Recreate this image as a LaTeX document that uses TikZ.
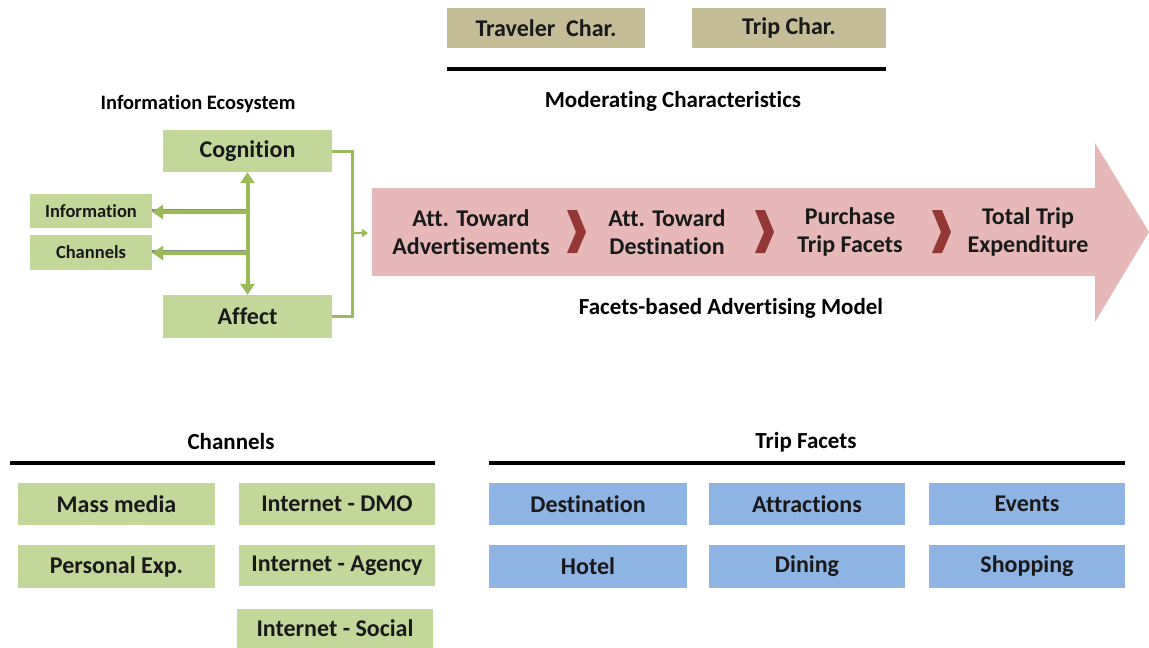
\documentclass[tikz,border=0pt]{standalone}
\usepackage{fontspec}
\setmainfont{Carlito}[Ligatures=NoCommon]
\usetikzlibrary{arrows.meta}
\definecolor{boxgreen}{RGB}{196,215,155}
\definecolor{arrowgreen}{RGB}{155,187,89}
\definecolor{boxtan}{RGB}{196,189,151}
\definecolor{boxblue}{RGB}{141,180,226}
\definecolor{bigpink}{RGB}{230,185,184}
\definecolor{chevred}{RGB}{149,55,53}
\tikzset{
  base/.style={inner sep=0pt, font=\bfseries\fontsize{24}{27}\selectfont, text=black!90},
  gbox/.style={base, fill=boxgreen},
  tbox/.style={base, fill=boxtan},
  bbox/.style={base, fill=boxblue},
  heading/.style={font=\bfseries\fontsize{23}{26}\selectfont, text=black},
  rule/.style={line width=4pt, black},
  garrow/.style={line width=4pt, arrowgreen, -{Triangle[width=14pt,length=11pt]}},
  gline/.style={line width=3pt, arrowgreen},
  inarrow/.style={align=center, font=\bfseries\fontsize{24}{28}\selectfont, text=black!90},
  chev/.style={fill=chevred, draw=none}
}
\begin{document}
\begin{tikzpicture}[x=1pt,y=-1pt]
\useasboundingbox (0,0) rectangle (1149,648);

% moderating characteristics
\node[tbox, minimum width=198, minimum height=40] (trav) at (546,28) {Traveler\ \ Char.};
\node[tbox, minimum width=194, minimum height=40] (tripc) at (789,28) {Trip Char.};
\coordinate (modL) at (447,69);
\coordinate (modR) at (886,69);
\draw[rule] (modL) -- (modR);
\node[heading] (modtitle) at (673,101) {Moderating Characteristics};

% information ecosystem
\node[heading, font=\bfseries\fontsize{20.5}{23}\selectfont] (ecotitle) at (198,104) {Information Ecosystem};
\node[gbox, minimum width=169, minimum height=42] (cog) at (247.5,151) {Cognition};
\node[gbox, minimum width=169, minimum height=43] (aff) at (247.5,316.5) {Affect};
\node[gbox, minimum width=122, minimum height=34, font=\bfseries\fontsize{18.5}{21}\selectfont] (info) at (91,211) {Information};
\node[gbox, minimum width=122, minimum height=35, font=\bfseries\fontsize{18.5}{21}\selectfont] (chan) at (91,252.5) {Channels};

\coordinate (hub1) at (247,212);
\coordinate (hub2) at (247,253);
% shadows under the left arrows
\draw[line width=3pt, black!45] ([yshift=2pt]hub1) -- ([yshift=2pt]hub1 -| info.east) ++(10,0);
\draw[line width=3pt, black!45] ([yshift=2pt]hub2) -- ([yshift=2pt]hub2 -| chan.east) ++(10,0);
\draw[garrow] (hub1) -- (hub1 -| info.east);
\draw[garrow] (hub2) -- (hub2 -| chan.east);
\draw[garrow, {Triangle[width=14pt,length=11pt]}-{Triangle[width=14pt,length=11pt]}] (cog.south) -- (aff.south |- aff.north);

% bracket joining both components
\coordinate (brT) at (352,151);
\coordinate (brB) at (352,316.5);
\coordinate (brM) at (352,233);
\coordinate (brE) at (368,233);
\draw[gline] (cog.east) -- (brT) -- (brB) -- (aff.east);
\draw[line width=2.5pt, arrowgreen, -{Triangle[width=8pt,length=6pt]}] (brM) -- (brE);

% big process arrow
\path[fill=bigpink] (372,188) -- (1095,188) -- (1095,143) -- (1149,232) -- (1095,322) -- (1095,276) -- (372,276) -- cycle;
\node[inarrow] (s1) at (471,232) {Att. Toward\\Advertisements};
\node[inarrow] (s2) at (667,232) {Att. Toward\\Destination};
\node[inarrow] (s3) at (850,232) {Purchase\\Trip Facets};
\node[inarrow] (s4) at (1028,232) {Total Trip\\Expenditure};
\foreach \c in {576,764,941}{
  \path[chev] (\c-9,210) -- (\c+1,210) -- (\c+10,232) -- (\c+1,253) -- (\c-9,253) -- (\c,232) -- cycle;
}
\node[heading] (fbam) at (731,308) {Facets-based Advertising Model};

% channels
\node[heading] (chtitle) at (231,442) {Channels};
\coordinate (chL) at (10,463);
\coordinate (chR) at (435,463);
\draw[rule] (chL) -- (chR);
\node[gbox, minimum width=197, minimum height=42] (mass) at (116.5,504) {Mass media};
\node[gbox, minimum width=196, minimum height=42] (dmo) at (337,504) {Internet - DMO};
\node[gbox, minimum width=197, minimum height=43] (pers) at (116.5,566.5) {Personal Exp.};
\node[gbox, minimum width=196, minimum height=41] (agency) at (337,565.5) {Internet - Agency};
\node[gbox, minimum width=196, minimum height=40] (social) at (335,628.5) {Internet - Social};

% trip facets
\node[heading] (tftitle) at (806,442) {Trip Facets};
\coordinate (tfL) at (489,463);
\coordinate (tfR) at (1125,463);
\draw[rule] (tfL) -- (tfR);
\node[bbox, minimum width=198, minimum height=42] (dest) at (588,504) {Destination};
\node[bbox, minimum width=196, minimum height=42] (attr) at (807,504) {Attractions};
\node[bbox, minimum width=196, minimum height=42] (events) at (1027,504) {Events};
\node[bbox, minimum width=198, minimum height=43] (hotel) at (588,566.5) {Hotel};
\node[bbox, minimum width=196, minimum height=43] (dining) at (807,566.5) {Dining};
\node[bbox, minimum width=196, minimum height=43] (shop) at (1027,566.5) {Shopping};
\end{tikzpicture}
\end{document}
